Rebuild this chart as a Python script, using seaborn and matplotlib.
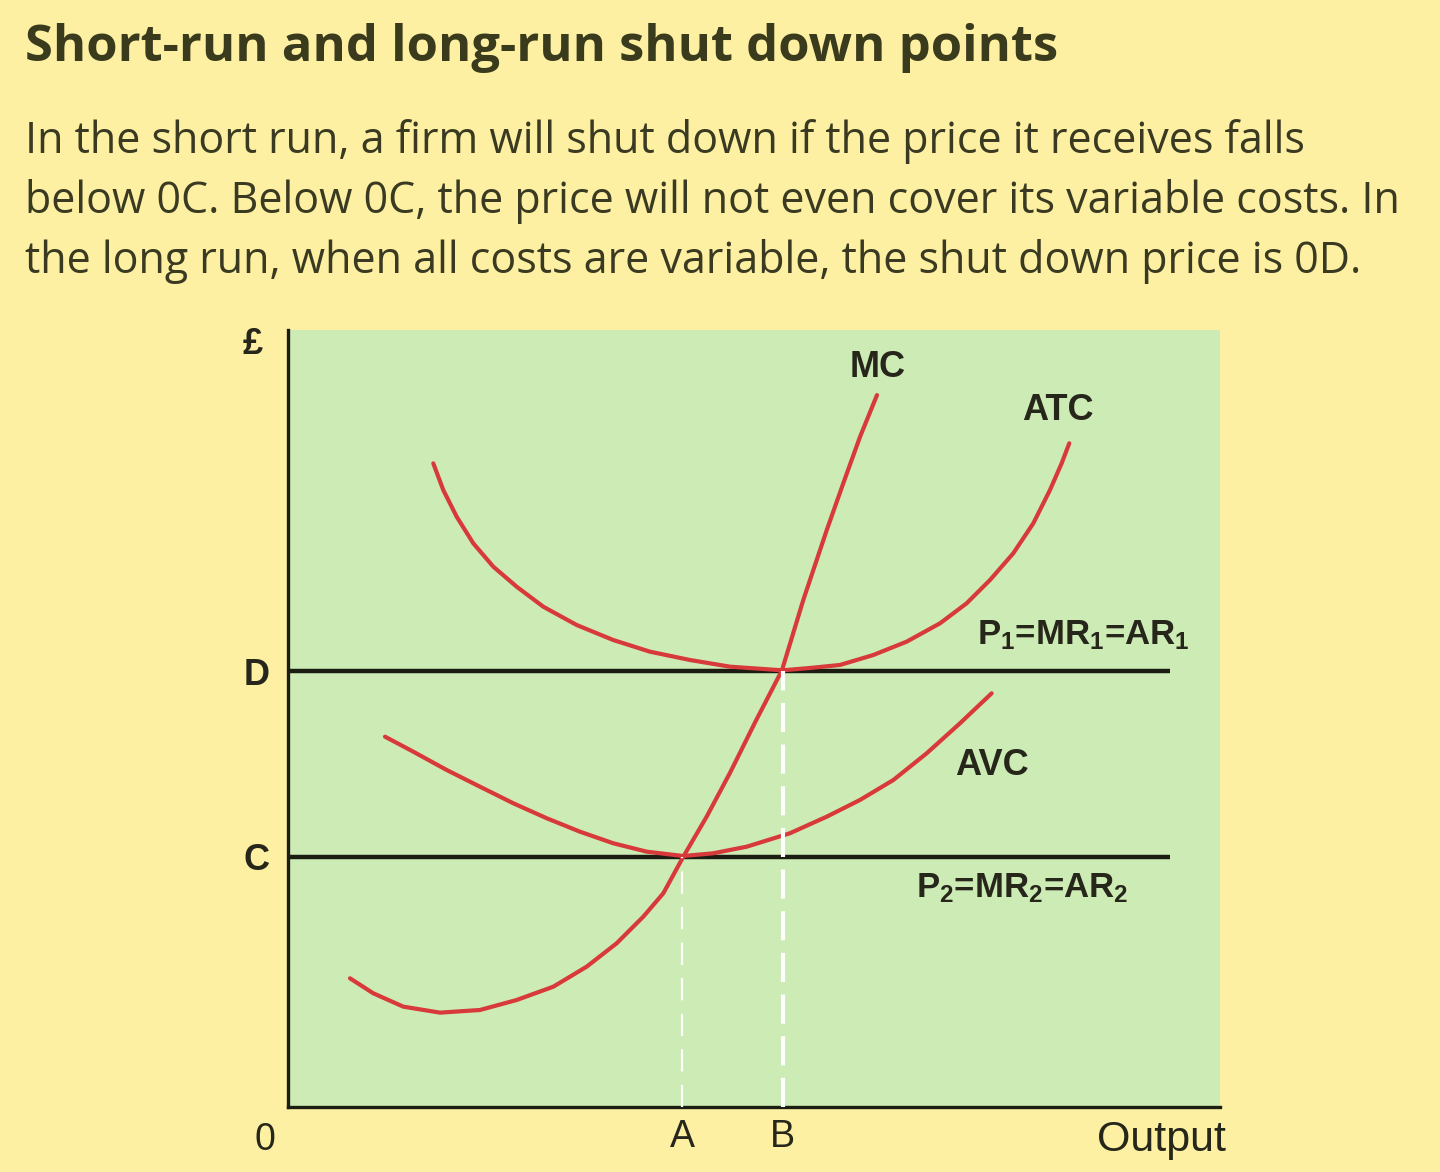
import numpy as np
import pandas as pd
import matplotlib
matplotlib.use('Agg')
import matplotlib.pyplot as plt
import seaborn as sns

# Кривые издержек (выход 0..100, цена 0..100)
mc_x = [6.65, 9.15, 12.37, 16.31, 20.60, 24.54, 28.47, 32.05, 35.27, 38.12, 40.27, 42.41,
        44.92, 47.42, 50.2, 53.0, 55.29, 57.81, 59.58, 61.37, 63.2]
mc_y = [16.56, 14.63, 12.91, 12.14, 12.48, 13.77, 15.48, 18.06, 21.07, 24.49, 27.5, 32.2,
        37.36, 42.99, 49.7, 56.2, 65.25, 74.26, 80.27, 86.23, 91.63]

atc_x = [15.59, 16.66, 18.10, 19.88, 22.03, 24.54, 27.39, 30.98, 34.90, 38.84, 43.13, 47.42,
         53.04, 56.0, 59.23, 62.80, 66.38, 69.96, 72.82, 75.32, 77.82, 79.97, 81.76, 83.01, 83.83]
atc_y = [82.84, 79.41, 75.97, 72.55, 69.54, 66.96, 64.39, 62.03, 60.10, 58.60, 57.53, 56.67,
         56.2, 56.5, 56.89, 58.17, 59.89, 62.25, 64.83, 67.82, 71.26, 75.12, 79.41, 82.84, 85.42]

avc_x = [10.41, 13.44, 17.03, 20.60, 24.17, 27.76, 31.33, 34.90, 38.49, 42.41, 45.63, 49.22,
         53.86, 57.80, 61.37, 64.95, 68.53, 72.10, 75.50]
avc_y = [47.66, 45.73, 43.37, 41.22, 39.09, 37.16, 35.43, 33.94, 32.86, 32.3, 32.65, 33.50,
         35.23, 37.36, 39.51, 42.08, 45.52, 49.38, 53.24]

# Уровни цены и точки выпуска
price_labels = ['C', 'D']
price_levels = [32.2, 56.1]
price_line_end = 94.6
output_labels = ['A', 'B']
output_levels = [42.3, 53.1]

curve_names = ['MC', 'ATC', 'AVC']
curve_label_x = [63.3, 82.6, 75.5]
curve_label_y = [95.2, 89.7, 44.0]

title = 'Short-run and long-run shut down points'
paragraph = ['In the short run, a firm will shut down if the price it receives falls',
             'below 0C. Below 0C, the price will not even cover its variable costs. In',
             'the long run, when all costs are variable, the shut down price is 0D.']

yellow = '#fdf0a2'
green = '#cdebb5'
red = '#d8393a'
ink = '#26261a'

sns.set_theme(style='white')
plt.rcParams['font.family'] = ['Liberation Sans', 'DejaVu Sans']
plt.rcParams['mathtext.fontset'] = 'custom'
plt.rcParams['mathtext.rm'] = 'Liberation Sans'
plt.rcParams['mathtext.default'] = 'regular'
plt.rcParams['lines.solid_joinstyle'] = 'round'
plt.rcParams['lines.solid_capstyle'] = 'round'

curves = pd.concat([
    pd.DataFrame({'output': mc_x, 'cost': mc_y, 'curve': 'MC'}),
    pd.DataFrame({'output': atc_x, 'cost': atc_y, 'curve': 'ATC'}),
    pd.DataFrame({'output': avc_x, 'cost': avc_y, 'curve': 'AVC'}),
])

fig = plt.figure(figsize=(14.4, 11.72), dpi=100, facecolor=yellow)
ax = fig.add_axes([0.2, 0.0555, 0.6472, 0.6629], facecolor=green)

# Горизонтальные линии цены
ax.hlines(price_levels, 0, price_line_end, color='#1b1d12', lw=3.2, zorder=2)

sns.lineplot(data=curves, x='output', y='cost', units='curve', estimator=None,
             sort=False, color=red, lw=3, ax=ax, zorder=3)

# Пунктир от пересечений вниз к оси
ax.vlines(output_levels[0], 0, price_levels[0], color='white', lw=1.6,
          linestyles=(0, (10, 6)), zorder=4)
ax.vlines(output_levels[1], 0, price_levels[1], color='white', lw=3,
          linestyles=(0, (7, 3)), zorder=4)

ax.set_xlim(0, 100)
ax.set_ylim(0, 100)
sns.despine(ax=ax)
for side in ['left', 'bottom']:
    ax.spines[side].set_color('#1b1d12')
    ax.spines[side].set_linewidth(2.4)

ax.set_yticks(price_levels, price_labels, fontsize=26, fontweight='bold', color=ink)
ax.set_xticks(output_levels, output_labels, fontsize=27, color=ink)
ax.tick_params(axis='y', length=0, pad=13)
ax.tick_params(axis='x', length=0, pad=9)
ax.set_xlabel('')
ax.set_ylabel('')

ax.text(-0.0376, 0.981, '£', transform=ax.transAxes, ha='center', va='center',
        fontsize=26, fontweight='bold', color=ink)
ax.text(-0.025, -0.042, '0', transform=ax.transAxes, ha='center', va='center',
        fontsize=27, color=ink)
ax.text(1.006, -0.042, 'Output', transform=ax.transAxes, ha='right', va='center',
        fontsize=31, color=ink)

for name, lx, ly in zip(curve_names, curve_label_x, curve_label_y):
    ax.text(lx, ly, name, ha='center', va='center', fontsize=26,
            fontweight='bold', color=ink)
ax.text(85.3, 60.7, 'P$_1$=MR$_1$=AR$_1$', ha='center', va='center',
        fontsize=25, fontweight='bold', color=ink)
ax.text(78.8, 28.2, 'P$_2$=MR$_2$=AR$_2$', ha='center', va='center',
        fontsize=25, fontweight='bold', color=ink)

# Заголовок и текст
fig.text(25 / 1440, 1 - 48 / 1172, title, ha='left', va='center',
         fontsize=36.5, fontweight='bold', color='#3a3a1c', family=['Open Sans', 'DejaVu Sans'])
for i, line in enumerate(paragraph):
    fig.text(25 / 1440, 1 - (142 + 60 * i) / 1172, line, ha='left', va='center',
             fontsize=31, color='#3a3a22', family=['Open Sans', 'DejaVu Sans'])

plt.savefig('out.png', dpi=100, facecolor=yellow)
